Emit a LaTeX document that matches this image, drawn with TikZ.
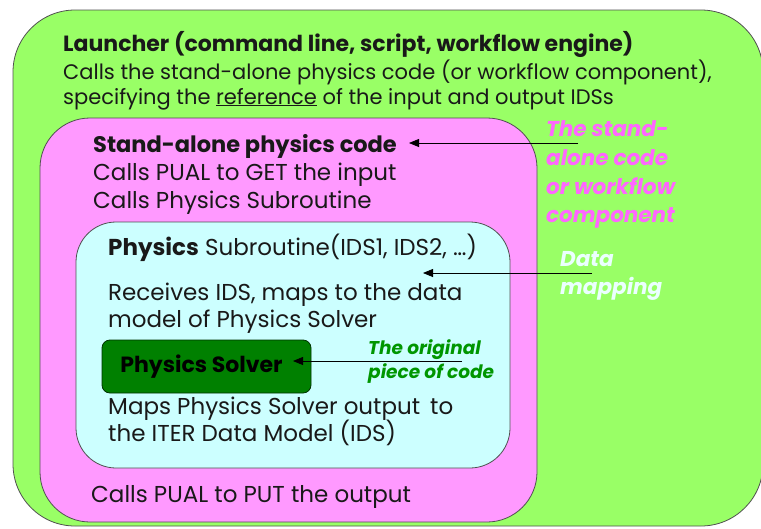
\documentclass[tikz,border=0pt]{standalone}
\usepackage{fontspec}
\setmainfont{Poppins}
\usetikzlibrary{arrows.meta}
\definecolor{launchgreen}{RGB}{153,255,102}
\definecolor{codepink}{RGB}{255,153,255}
\definecolor{subcyan}{RGB}{204,255,255}
\definecolor{solvergreen}{RGB}{0,128,0}
\definecolor{labelpink}{RGB}{255,102,255}
\definecolor{labelgreen}{RGB}{0,150,0}
\definecolor{labelwhite}{RGB}{235,255,255}
\definecolor{edgegray}{RGB}{80,80,80}
\newcommand{\fsA}{\fontsize{21}{24}\selectfont}
\newcommand{\fsB}{\fontsize{22.5}{26}\selectfont}
\newcommand{\fsC}{\fontsize{23}{26}\selectfont}
\begin{document}
\begin{tikzpicture}[x=1pt,y=-1pt,
  box/.style={draw=edgegray, line width=0.8pt},
  txt/.style={anchor=base west, inner sep=0pt, text=black!90, font=\fsC},
  toptxt/.style={anchor=base west, inner sep=0pt, text=black!90, font=\fsA},
  side/.style={anchor=base west, inner sep=0pt, font=\fontsize{21.5}{24}\selectfont\bfseries\itshape},
  note/.style={anchor=base west, inner sep=0pt, text=labelgreen, font=\fontsize{18.5}{22}\selectfont\bfseries\itshape},
  pointer/.style={-{Triangle[length=10pt,width=8pt]}, line width=0.8pt},
  solverbox/.style={draw=black!60!solvergreen, line width=0.8pt, fill=solvergreen, rounded corners=8pt,
    minimum width=209pt, minimum height=53pt, inner sep=0pt, font=\fontsize{22}{26}\selectfont\bfseries}
]
\useasboundingbox (0,0) rectangle (761,528);
% containers
\path[box, fill=launchgreen, rounded corners=62pt] (13,10) rectangle (763,526);
\path[box, fill=codepink, rounded corners=50pt] (40,118) rectangle (537,522);
\path[box, fill=subcyan, rounded corners=40pt] (76,222) rectangle (510,468);
% launcher text
\node[toptxt, font=\fontsize{22}{26}\selectfont\bfseries] (launch) at (63,51) {Launcher (command line, script, workflow engine)};
\node[toptxt] (launch2) at (63,79) {Calls the stand-alone physics code (or workflow component),};
\node[toptxt] (launch3) at (63,104) {specifying the \underline{reference} of the input and output IDSs};
% stand-alone code text
\node[txt, font=\fsB\bfseries] (sacode) at (93,152) {Stand-alone physics code};
\node[txt] (sacode2) at (93,180) {Calls PUAL to GET the input};
\node[txt] (sacode3) at (93,208) {Calls Physics Subroutine};
\node[txt] (saput) at (91,502) {Calls PUAL to PUT the output};
% subroutine text
\node[txt] (sub) at (108,255) {{\bfseries Physics} Subroutine(IDS1, IDS2, …)};
\node[txt] (sub2) at (108,300) {Receives IDS, maps to the data};
\node[txt] (sub3) at (108,327) {model of Physics Solver};
\node[txt] (sub4) at (108,414) {Maps Physics Solver output\, to};
\node[txt] (sub5) at (108,441) {the ITER Data Model (IDS)};
% solver
\node[solverbox] (solver) at (206.5,366.5) {\hspace*{-10pt}Physics Solver};
% side labels
\node[side, text=labelpink] (lp1) at (546,136) {The stand-};
\node[side, text=labelpink] (lp2) at (546,165) {alone code};
\node[side, text=labelpink] (lp3) at (546,194) {or workflow};
\node[side, text=labelpink] (lp4) at (546,222) {component};
\node[side, text=labelwhite] (lw1) at (560,266) {Data};
\node[side, text=labelwhite] (lw2) at (560,294) {mapping};
\node[note] (lg1) at (368,354) {The original};
\node[note] (lg2) at (368,378) {piece of code};
% pointers
\coordinate (p1s) at (578,143); \coordinate (p1e) at (409,143);
\coordinate (p2s) at (592,273); \coordinate (p2e) at (423,273);
\coordinate (p3s) at (462,361); \coordinate (p3e) at (293,361);
\draw[pointer] (p1s) -- (p1e);
\draw[pointer] (p2s) -- (p2e);
\draw[pointer] (p3s) -- (p3e);
\end{tikzpicture}
\end{document}
